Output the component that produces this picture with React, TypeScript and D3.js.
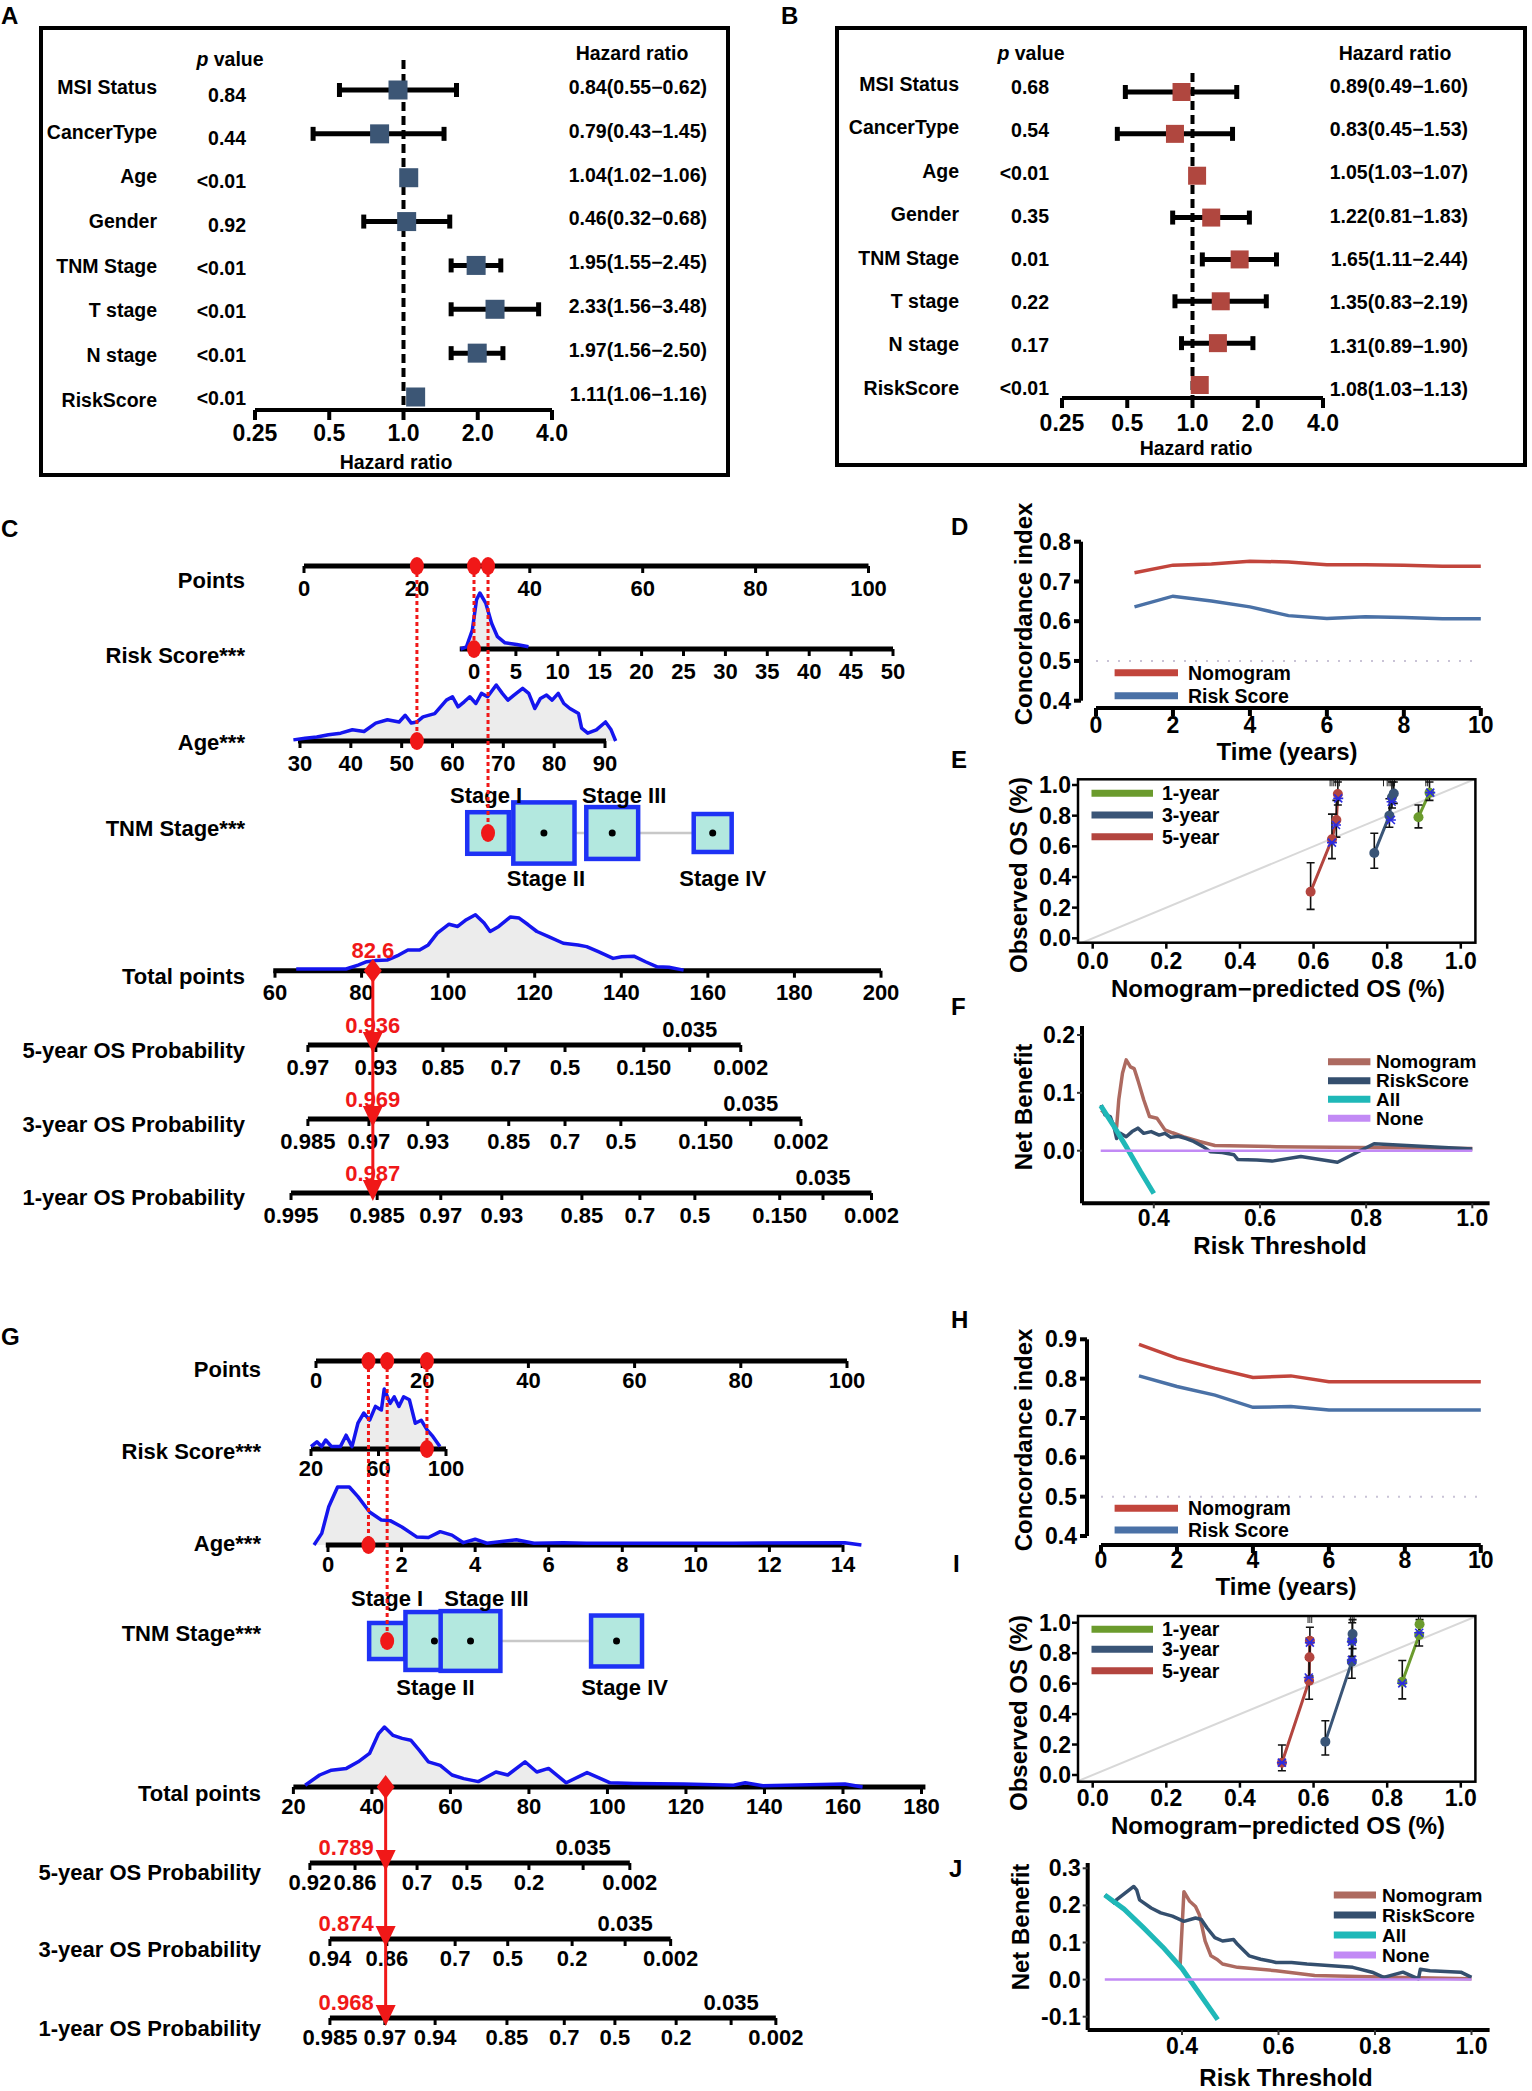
import React from 'react';
import * as d3 from 'd3';

const FONT = '"Liberation Sans", Arial, Helvetica, sans-serif';
const RED = '#f01818';
const DENS_BLUE = '#1515ee';

// ---------- A / B : multivariate Cox forest plots ----------
const forestVars = ['MSI Status', 'CancerType', 'Age', 'Gender', 'TNM Stage', 'T stage', 'N stage', 'RiskScore'];
const hrTicks = [0.25, 0.5, 1, 2, 4];
const hrTickText = ['0.25', '0.5', '1.0', '2.0', '4.0'];

const pA = ['0.84', '0.44', '<0.01', '0.92', '<0.01', '<0.01', '<0.01', '<0.01'];
const ciTextA = ['0.84(0.55−0.62)', '0.79(0.43−1.45)', '1.04(1.02−1.06)', '0.46(0.32−0.68)', '1.95(1.55−2.45)', '2.33(1.56−3.48)', '1.97(1.56−2.50)', '1.11(1.06−1.16)'];
// where the marks sit in panel A (the printed text does not always agree)
const hrA = [0.95, 0.8, 1.05, 1.03, 1.97, 2.35, 1.99, 1.12];
const loA = [0.55, 0.43, 1.02, 0.69, 1.56, 1.56, 1.56, 1.06];
const hiA = [1.64, 1.46, 1.06, 1.54, 2.48, 3.53, 2.53, 1.16];

const pB = ['0.68', '0.54', '<0.01', '0.35', '0.01', '0.22', '0.17', '<0.01'];
const ciTextB = ['0.89(0.49−1.60)', '0.83(0.45−1.53)', '1.05(1.03−1.07)', '1.22(0.81−1.83)', '1.65(1.11−2.44)', '1.35(0.83−2.19)', '1.31(0.89−1.90)', '1.08(1.03−1.13)'];
const hrB = [0.89, 0.83, 1.05, 1.22, 1.65, 1.35, 1.31, 1.08];
const loB = [0.49, 0.45, 1.03, 0.81, 1.11, 0.83, 0.89, 1.03];
const hiB = [1.6, 1.53, 1.07, 1.83, 2.44, 2.19, 1.9, 1.13];

// ---------- C / G : nomograms ----------
const nomoLabels = ['Points', 'Risk Score***', 'Age***', 'TNM Stage***', 'Total points', '5-year OS Probability', '3-year OS Probability', '1-year OS Probability'];
const stages = ['Stage I', 'Stage II', 'Stage III', 'Stage IV'];
const pointTicks = [0, 20, 40, 60, 80, 100];

// density curves: [value, relative density (peak = 100)]
const cRiskDens = [[-1.6, 0], [-0.9, 4], [-0.2, 34], [0.3, 88], [0.7, 100], [1.4, 82], [2.1, 46], [2.8, 22], [3.7, 11], [5.1, 8], [6.5, 4]];
const cAgeDens = [[28.7, 2], [31, 5], [33.3, 7], [35.6, 11], [38, 14], [40.3, 20], [42.6, 17], [44.9, 32], [47.2, 38], [49.5, 34], [50.7, 46], [51.9, 32], [53, 34], [54.2, 43], [56.5, 49], [58.8, 73], [60, 79], [61.1, 61], [62.3, 70], [63.4, 79], [64.6, 67], [65.7, 85], [66.9, 79], [68.6, 100], [69.8, 85], [70.9, 73], [72.1, 82], [73.8, 94], [75, 85], [76.2, 58], [77.3, 76], [78.5, 82], [79.6, 73], [80.8, 85], [81.9, 67], [83.1, 58], [84.8, 49], [85.4, 23], [86.6, 14], [88.3, 20], [90.1, 34], [91.2, 20], [92.1, 0]];
const cTotalDens = [[64.9, 3], [76.4, 3], [79.2, 10], [81.2, 16], [83.2, 18], [85.9, 19], [88.6, 28], [90.7, 37], [93.4, 37], [95.4, 46], [97.5, 67], [100.2, 83], [102.2, 79], [104.2, 91], [106.3, 100], [108.3, 85], [109.7, 70], [111.7, 79], [114.4, 96], [116.4, 94], [118.5, 82], [120.5, 70], [123.2, 61], [126.6, 49], [130, 46], [132, 43], [134.7, 34], [138.1, 22], [140.1, 25], [142.9, 26], [145.6, 16], [148.3, 7], [151, 6], [154.4, 1]];
const cStagePts = [32.6, 42.5, 54.6, 72.4];
const cStageFreq = [0.18, 0.39, 0.28, 0.15];
const cRiskTicks = d3.range(0, 51, 5);
const cAgeTicks = [30, 40, 50, 60, 70, 80, 90];
const cTotalTicks = [60, 80, 100, 120, 140, 160, 180, 200];
// [label, total points]
const c5y = [['0.97', 67.6], ['0.93', 83.3], ['0.85', 98.8], ['0.7', 113.3], ['0.5', 127.0], ['0.150', 145.2], ['0.035', 155.8], ['0.002', 167.6]];
const c3y = [['0.985', 67.6], ['0.97', 81.7], ['0.93', 95.3], ['0.85', 114.0], ['0.7', 127.0], ['0.5', 139.9], ['0.150', 159.5], ['0.035', 169.9], ['0.002', 181.5]];
const c1y = [['0.995', 63.7], ['0.985', 83.6], ['0.97', 98.3], ['0.93', 112.4], ['0.85', 130.9], ['0.7', 144.3], ['0.5', 157.0], ['0.150', 176.6], ['0.035', 186.6], ['0.002', 197.8]];
const cPatient = { risk: 0, age: 53, stage: 'Stage I', total: 82.6, probs: ['0.936', '0.969', '0.987'] };

const gRiskDens = [[20, 4], [23.5, 12], [26.3, 4], [28.7, 15], [32.2, 4], [37.4, 4], [40.8, 23], [44.3, 4], [47.8, 43], [51.3, 60], [54.7, 48], [58.2, 71], [61.7, 65], [63.4, 100], [66.9, 76], [69.3, 87], [72.1, 71], [74.9, 87], [78.3, 82], [81.8, 43], [85.3, 48], [88.8, 32], [92.2, 21], [96.4, 4]];
const gAgeDens = [[-0.38, 0], [-0.17, 20], [0.02, 66], [0.26, 100], [0.58, 100], [0.82, 83], [1.13, 57], [1.45, 43], [1.69, 42], [2.01, 31], [2.41, 14], [2.73, 13], [3.05, 23], [3.37, 17], [3.68, 4], [4, 10], [4.32, 3], [5.12, 9], [5.6, 3], [6.4, 4], [7.03, 3], [8.6, 3], [11, 3], [14.05, 4], [14.5, 0]];
const gTotalDens = [[23, 3], [26.7, 20], [29.7, 28], [33.5, 31], [36.5, 42], [39.4, 56], [41.7, 89], [43.2, 100], [45.4, 86], [47.7, 81], [49.9, 78], [52.1, 61], [54.4, 42], [57.4, 36], [60.4, 20], [63.4, 14], [67.1, 9], [71.6, 25], [74.6, 20], [79, 42], [82, 25], [85, 31], [89.5, 7], [94.8, 24], [100.7, 7], [106.7, 6], [119.4, 5], [132.1, 3], [135.1, 7], [139.6, 2], [160.5, 5], [165, 0]];
const gStagePts = [13.4, 22.3, 29.1, 56.6];
const gStageFreq = [0.12, 0.31, 0.33, 0.24];
const gRiskTicks = [20, 60, 100];
const gAgeTicks = [0, 2, 4, 6, 8, 10, 12, 14];
const gTotalTicks = [20, 40, 60, 80, 100, 120, 140, 160, 180];
const g5y = [['0.92', 24.2], ['0.86', 35.7], ['0.7', 51.5], ['0.5', 64.2], ['0.2', 80.0], ['0.035', 93.8], ['0.002', 105.7]];
const g3y = [['0.94', 29.3], ['0.86', 43.8], ['0.7', 61.2], ['0.5', 74.6], ['0.2', 91.0], ['0.035', 104.5], ['0.002', 116.1]];
const g1y = [['0.985', 29.3], ['0.97', 43.3], ['0.94', 56.1], ['0.85', 74.4], ['0.7', 89.0], ['0.5', 101.9], ['0.2', 117.5], ['0.035', 131.5], ['0.002', 142.9]];
const gPatient = { risk: 88.7, age: 1.1, stage: 'Stage I', total: 43.5, probs: ['0.789', '0.874', '0.968'] };

// ---------- D / H : time-dependent C-index ----------
const years = [1, 2, 3, 4, 5, 6, 7, 8, 9, 10];
const dNomo = [0.722, 0.741, 0.744, 0.751, 0.749, 0.742, 0.742, 0.741, 0.738, 0.738];
const dRisk = [0.636, 0.663, 0.651, 0.636, 0.614, 0.607, 0.611, 0.609, 0.606, 0.606];
const hNomo = [0.887, 0.852, 0.826, 0.803, 0.807, 0.792, 0.792, 0.792, 0.792, 0.792];
const hRisk = [0.807, 0.78, 0.758, 0.727, 0.729, 0.72, 0.72, 0.72, 0.72, 0.72];
const ciNames = ['Nomogram', 'Risk Score'];

// ---------- E / I : calibration  [predicted, observed, lower, upper] ----------
const calNames = ['1-year', '3-year', '5-year'];
const eCal1 = [[0.885, 0.79, 0.72, 0.87], [0.915, 0.95, 0.9, 1.02]];
const eCal3 = [[0.765, 0.556, 0.457, 0.685], [0.806, 0.8, 0.724, 0.91], [0.813, 0.92, 0.85, 1.02], [0.818, 0.945, 0.88, 1.02]];
const eCal5 = [[0.592, 0.304, 0.189, 0.493], [0.65, 0.646, 0.52, 0.81], [0.662, 0.772, 0.66, 0.9], [0.666, 0.941, 0.87, 1.02]];
const eBias = [[0.65, 0.624], [0.661, 0.739], [0.667, 0.913], [0.81, 0.772], [0.812, 0.891], [0.917, 0.95]];
const eRug = [0.645, 0.65, 0.655, 0.66, 0.665, 0.67, 0.79, 0.8, 0.805, 0.81, 0.815, 0.82, 0.905, 0.91, 0.915];
const iCal1 = [[0.841, 0.613, 0.5, 0.752], [0.887, 0.919, 0.847, 1.0], [0.888, 0.99, 0.93, 1.02]];
const iCal3 = [[0.632, 0.219, 0.131, 0.356], [0.704, 0.744, 0.635, 0.87], [0.705, 0.882, 0.78, 1.0], [0.706, 0.926, 0.83, 1.02]];
const iCal5 = [[0.514, 0.081, 0.028, 0.197], [0.588, 0.619, 0.497, 0.76], [0.589, 0.773, 0.65, 0.9], [0.59, 0.882, 0.77, 0.97]];
const iBias = [[0.514, 0.081], [0.587, 0.64], [0.59, 0.869], [0.704, 0.755], [0.704, 0.875], [0.841, 0.602], [0.887, 0.934]];
const iRug = [0.585, 0.59, 0.595, 0.7, 0.705, 0.71, 0.885, 0.89];

// ---------- F / J : decision curves  [threshold, net benefit] ----------
const dcaNames = ['Nomogram', 'RiskScore', 'All', 'None'];
const fNomo = [[0.301, 0.07], [0.312, 0.062], [0.323, 0.047], [0.33, 0.041], [0.334, 0.088], [0.341, 0.134], [0.348, 0.157], [0.356, 0.145], [0.363, 0.142], [0.37, 0.122], [0.381, 0.088], [0.392, 0.059], [0.406, 0.056], [0.421, 0.036], [0.435, 0.031], [0.457, 0.024], [0.486, 0.016], [0.515, 0.009], [0.631, 0.007], [1.0, 0.004]];
const fRisk = [[0.301, 0.079], [0.308, 0.062], [0.318, 0.059], [0.325, 0.041], [0.33, 0.021], [0.337, 0.03], [0.348, 0.024], [0.359, 0.033], [0.37, 0.039], [0.381, 0.03], [0.395, 0.033], [0.41, 0.027], [0.421, 0.03], [0.432, 0.023], [0.446, 0.025], [0.461, 0.021], [0.475, 0.016], [0.493, 0.007], [0.507, -0.002], [0.529, -0.003], [0.551, -0.007], [0.558, -0.015], [0.594, -0.016], [0.623, -0.018], [0.677, -0.01], [0.746, -0.02], [0.815, 0.012], [1.0, 0.003]];
const fAll = [[0.3, 0.078], [0.325, 0.042], [0.35, 0.004], [0.375, -0.036], [0.4, -0.074]];
const fNone = [[0.3, 0], [1.0, 0]];
const jNomo = [[0.396, 0.037], [0.404, 0.237], [0.416, 0.211], [0.428, 0.197], [0.436, 0.175], [0.448, 0.104], [0.46, 0.064], [0.472, 0.055], [0.484, 0.042], [0.515, 0.033], [0.595, 0.024], [0.675, 0.011], [0.834, 0.006], [1.0, 0.002]];
const jRisk = [[0.24, 0.228], [0.26, 0.206], [0.264, 0.215], [0.3, 0.251], [0.306, 0.242], [0.312, 0.215], [0.336, 0.193], [0.356, 0.18], [0.38, 0.171], [0.404, 0.157], [0.428, 0.166], [0.44, 0.162], [0.452, 0.139], [0.468, 0.113], [0.484, 0.104], [0.507, 0.108], [0.515, 0.095], [0.539, 0.064], [0.563, 0.055], [0.579, 0.051], [0.595, 0.046], [0.627, 0.046], [0.659, 0.042], [0.754, 0.033], [0.794, 0.02], [0.818, 0.006], [0.858, 0.02], [0.89, 0.002], [0.894, 0.028], [0.914, 0.024], [0.978, 0.02], [1.0, 0.006]];
const jAll = [[0.24, 0.228], [0.28, 0.19], [0.32, 0.14], [0.36, 0.088], [0.4, 0.03], [0.44, -0.045], [0.474, -0.108]];
const jNone = [[0.24, 0], [1.0, 0]];

// ---------- layout ----------
const layA = { box: [41, 28, 728, 475], labX: 157, pX: 246, ciX: 707, ax: [255, 552], axY: 410, labY: [87, 400], pY: [95, 398], markY: [90, 397], ciY: [87, 394], pHead: [230, 59], hrHead: [632, 53], dashTop: 60, tickY: 433, title: [396, 462], sq: 19 };
const layB = { box: [837, 28, 1525, 465], labX: 959, pX: 1049, ciX: 1468, ax: [1062, 1323], axY: 398, labY: [84, 388], pY: [87, 388], markY: [92, 385], ciY: [86, 389], pHead: [1031, 53], hrHead: [1395, 53], dashTop: 73, tickY: 423, title: [1196, 448], sq: 18 };

const layC = {
  labelX: 245, labelY: [580, 655, 742, 828, 976, 1050, 1124, 1197], tickDy: 22,
  pointsY: 566, pointsRange: [304, 868.5],
  risk: { y: 649, domain: [0, 50], range: [474, 893], line: [-1.7, 50], h: 56 },
  age: { y: 741, domain: [30, 90], range: [300, 605], line: [29.6, 90.2], h: 56 },
  stageY: 833, stageK: 98, stageAbove: 795, stageBelow: 878, stageLabDx: [-2, 2, 12, 10],
  total: { y: 970.7, domain: [60, 200], range: [275, 881], line: [59.6, 200], h: 56 },
  probY: [1045, 1119, 1193], valCentered: true,
};
const layG = {
  labelX: 261, labelY: [1369, 1451, 1543, 1633, 1793, 1872, 1949, 2028], tickDy: 19,
  pointsY: 1361, pointsRange: [316, 847],
  risk: { y: 1449, domain: [20, 100], range: [311, 446], line: [20, 100], h: 60 },
  age: { y: 1545, domain: [0, 14], range: [328, 843], line: [-0.06, 13.97], h: 58 },
  stageY: 1641, stageK: 104, stageAbove: 1598, stageBelow: 1687, stageLabDx: [0, 1, 16, 8],
  total: { y: 1787, domain: [20, 180], range: [293.4, 921.5], line: [20, 181], h: 60 },
  probY: [1863, 1939, 2018], valCentered: false,
};

const layD = { x: [1096, 1480.8], y: [700.7, 541.7], yDom: [0.4, 0.8], nt: 5, yAxisX: 1081, xAxisY: 708, xLabY: 725, title: [1287, 752], yTitle: [1024, 614], leg: [1114.6, 1178], legTx: 1188, legY: [672.7, 695.7] };
const layH = { x: [1101, 1480.8], y: [1536, 1339.3], yDom: [0.4, 0.9], nt: 6, yAxisX: 1087, xAxisY: 1545, xLabY: 1560, title: [1286, 1587], yTitle: [1024, 1440], leg: [1114.6, 1178], legTx: 1188, legY: [1508.3, 1530] };

const layE = { id: 'clipE', box: [1078, 779.3, 1475.4, 942.7], x: [1092.7, 1460.8], y: [938.3, 785], xLabY: 961, xTitle: [1278, 989], yTitle: [1018.5, 875], leg: [1091.5, 1153], legTx: 1162, legY: [793.3, 815, 836.7] };
const layI = { id: 'clipI', box: [1078, 1616, 1475.4, 1781.7], x: [1092.7, 1460.8], y: [1775, 1622.7], xLabY: 1798, xTitle: [1278, 1826], yTitle: [1018.5, 1713], leg: [1091.5, 1153], legTx: 1162, legY: [1629.3, 1649.3, 1670.7] };

const layF = { yAxisX: 1082, yAxisTop: 1026, xAxisY: 1203.3, xAxisEnd: 1489.6, xDom: [0.4, 1], x: [1153.8, 1472.3], yDom: [0, 0.2], y: [1150.7, 1035], yTicks: [0, 0.1, 0.2], xLabY: 1218, title: [1280, 1246], yTitle: [1024, 1107], leg: [1328, 1370.4], legTx: 1376, legY: [1061.7, 1080.7, 1099.3, 1118.3] };
const layJ = { yAxisX: 1087.7, yAxisTop: 1863, xAxisY: 2030, xAxisEnd: 1489.6, xDom: [0.4, 1], x: [1182, 1471.5], yDom: [-0.1, 0.3], y: [2016.7, 1868.3], yTicks: [-0.1, 0, 0.1, 0.2, 0.3], xLabY: 2046, title: [1286, 2078], yTitle: [1021, 1927], leg: [1333.8, 1376], legTx: 1382, legY: [1895, 1915, 1935, 1955] };

const panelLetters = [['A', 1, 24], ['B', 781, 24], ['C', 1, 537], ['D', 951, 535], ['E', 951, 768], ['F', 951, 1015], ['G', 1, 1345], ['H', 951, 1328], ['I', 953, 1572], ['J', 949, 1877]];

const CI_COLORS = ['#c2453c', '#4a71a6'];
const CAL_COLORS = ['#6b9b2d', '#3a5577', '#b3453f'];
const DCA_COLORS = ['#ad6a60', '#344f6e', '#1fb8b8', '#c28af5'];

// ---------- components ----------
function Forest({ lay, p, ci, hr, lo, hi, color }: any) {
  const x = d3.scaleLog().base(2).domain([0.25, 4]).range(lay.ax);
  const pt = (r: number[]) => d3.scalePoint<string>().domain(forestVars).range(r as [number, number]);
  const yLab = pt(lay.labY), yP = pt(lay.pY), yM = pt(lay.markY), yCi = pt(lay.ciY);
  const [bx0, by0, bx1, by1] = lay.box;
  const h = lay.sq / 2;
  return (
    <g>
      <rect x={bx0} y={by0} width={bx1 - bx0} height={by1 - by0} fill="none" stroke="#000" strokeWidth={4} />
      <text x={lay.pHead[0]} y={lay.pHead[1]} dy="0.35em" textAnchor="middle" fontSize={19.5}>
        <tspan fontStyle="italic">p</tspan> value
      </text>
      <text x={lay.hrHead[0]} y={lay.hrHead[1]} dy="0.35em" textAnchor="middle" fontSize={19.5}>Hazard ratio</text>
      {forestVars.map((v, i) => (
        <g key={v} fontSize={19.5}>
          <text x={lay.labX} y={yLab(v)} dy="0.35em" textAnchor="end">{v}</text>
          <text x={lay.pX} y={yP(v)} dy="0.35em" textAnchor="end">{p[i]}</text>
          <text x={lay.ciX} y={yCi(v)} dy="0.35em" textAnchor="end">{ci[i]}</text>
        </g>
      ))}
      <line x1={x(1)} x2={x(1)} y1={lay.dashTop} y2={lay.axY} stroke="#000" strokeWidth={4} strokeDasharray="9 5" />
      {forestVars.map((v, i) => {
        const y = yM(v) as number;
        return (
          <g key={v}>
            <line x1={x(lo[i])} x2={x(hi[i])} y1={y} y2={y} stroke="#000" strokeWidth={5} />
            {[lo[i], hi[i]].map((e, k) => (
              <line key={k} x1={x(e)} x2={x(e)} y1={y - 7} y2={y + 7} stroke="#000" strokeWidth={5} />
            ))}
            <rect x={x(hr[i]) - h} y={y - h} width={lay.sq} height={lay.sq} fill={color} />
          </g>
        );
      })}
      <line x1={lay.ax[0]} x2={lay.ax[1]} y1={lay.axY} y2={lay.axY} stroke="#000" strokeWidth={4} />
      {hrTicks.map((t, i) => (
        <g key={t}>
          <line x1={x(t)} x2={x(t)} y1={lay.axY} y2={lay.axY + 10} stroke="#000" strokeWidth={4} />
          <text x={x(t)} y={lay.tickY} dy="0.35em" textAnchor="middle" fontSize={23}>{hrTickText[i]}</text>
        </g>
      ))}
      <text x={lay.title[0]} y={lay.title[1]} dy="0.35em" textAnchor="middle" fontSize={19.5}>Hazard ratio</text>
    </g>
  );
}

function Nomogram({ lay, riskDens, ageDens, totalDens, riskTicks, ageTicks, totalTicks, stagePts, stageFreq, probs, patient }: any) {
  const pts = d3.scaleLinear().domain([0, 100]).range(lay.pointsRange);
  const risk = d3.scaleLinear().domain(lay.risk.domain).range(lay.risk.range);
  const age = d3.scaleLinear().domain(lay.age.domain).range(lay.age.range);
  const tot = d3.scaleLinear().domain(lay.total.domain).range(lay.total.range);

  const dens = (sx: any, tr: any, data: number[][]) => {
    const hs = d3.scaleLinear().domain([0, 100]).range([0, tr.h]);
    const area = d3.area<number[]>().x(d => sx(d[0])).y0(tr.y).y1(d => tr.y - hs(d[1]));
    const line = d3.line<number[]>().x(d => sx(d[0])).y(d => tr.y - hs(d[1]));
    return { area: area(data) as string, line: line(data) as string };
  };
  const dR = dens(risk, lay.risk, riskDens);
  const dA = dens(age, lay.age, ageDens);
  const dT = dens(tot, lay.total, totalDens);

  const axis = (sx: any, y: number, ext: number[], ticks: number[]) => (
    <g>
      <line x1={sx(ext[0])} x2={sx(ext[1])} y1={y} y2={y} stroke="#000" strokeWidth={5} />
      {ticks.map(t => (
        <g key={t}>
          <line x1={sx(t)} x2={sx(t)} y1={y} y2={y + 7} stroke="#000" strokeWidth={3} />
          <text x={sx(t)} y={y + lay.tickDy} dy="0.35em" textAnchor="middle" fontSize={22}>{t}</text>
        </g>
      ))}
    </g>
  );

  const xRisk = risk(patient.risk);
  const xAge = age(patient.age);
  const si = stages.indexOf(patient.stage);
  const xStage = pts(stagePts[si]);
  const xTot = tot(patient.total);
  const sxs = stagePts.map((s: number) => pts(s));
  const side = stageFreq.map((f: number) => Math.sqrt(f) * lay.stageK);
  const yLast = lay.probY[2];

  return (
    <g>
      {nomoLabels.map((l, i) => (
        <text key={l} x={lay.labelX} y={lay.labelY[i]} dy="0.35em" textAnchor="end" fontSize={22}>{l}</text>
      ))}
      <path d={dR.area} fill="#ececec" />
      <path d={dA.area} fill="#ececec" />
      <path d={dT.area} fill="#ececec" />
      {axis(pts, lay.pointsY, [0, 100], pointTicks)}
      {axis(risk, lay.risk.y, lay.risk.line, riskTicks)}
      {axis(age, lay.age.y, lay.age.line, ageTicks)}
      {axis(tot, lay.total.y, lay.total.line, totalTicks)}
      <path d={dR.line} fill="none" stroke={DENS_BLUE} strokeWidth={3.5} strokeLinejoin="round" />
      <path d={dA.line} fill="none" stroke={DENS_BLUE} strokeWidth={3.5} strokeLinejoin="round" />
      <path d={dT.line} fill="none" stroke={DENS_BLUE} strokeWidth={3.5} strokeLinejoin="round" />

      {/* TNM stage boxes */}
      <line x1={sxs[0]} x2={sxs[3]} y1={lay.stageY} y2={lay.stageY} stroke="#c8c8c8" strokeWidth={2.5} />
      {stages.map((s, i) => (
        <rect key={s} x={sxs[i] - side[i] / 2} y={lay.stageY - side[i] / 2} width={side[i]} height={side[i]}
          fill="#b3e8df" stroke="#1e32f5" strokeWidth={4.5} />
      ))}
      {stages.map((s, i) => (i === si ? null : <circle key={s} cx={sxs[i]} cy={lay.stageY} r={3.5} fill="#000" />))}
      {stages.map((s, i) => (
        <text key={s} x={sxs[i] + lay.stageLabDx[i]} y={i % 2 === 0 ? lay.stageAbove : lay.stageBelow} dy="0.35em"
          textAnchor="middle" fontSize={22}>{s}</text>
      ))}

      {/* probability axes */}
      {probs.map((ax: any[], k: number) => {
        const y = lay.probY[k];
        return (
          <g key={k}>
            <line x1={tot(ax[0][1])} x2={tot(ax[ax.length - 1][1])} y1={y} y2={y} stroke="#000" strokeWidth={5} />
            {ax.map((t: any) => (
              <g key={t[0]}>
                <line x1={tot(t[1])} x2={tot(t[1])} y1={y} y2={y + 7} stroke="#000" strokeWidth={3} />
                <text x={tot(t[1])} y={t[0] === '0.035' ? y - 16 : y + lay.tickDy} dy="0.35em" textAnchor="middle" fontSize={22}>{t[0]}</text>
              </g>
            ))}
          </g>
        );
      })}

      {/* patient path */}
      {[[xAge, lay.age.y], [xRisk, lay.risk.y], [xStage, lay.stageY]].map(([x, y], i) => (
        <line key={i} x1={x} x2={x} y1={lay.pointsY} y2={y} stroke={RED} strokeWidth={3} strokeDasharray="4 3" />
      ))}
      {[[xAge, lay.pointsY], [xRisk, lay.pointsY], [xStage, lay.pointsY], [xAge, lay.age.y], [xRisk, lay.risk.y], [xStage, lay.stageY]].map(([x, y], i) => (
        <ellipse key={i} cx={x} cy={y} rx={7} ry={9} fill={RED} />
      ))}
      <line x1={xTot} x2={xTot} y1={lay.total.y} y2={yLast} stroke={RED} strokeWidth={3} />
      <polygon points={`${xTot},${lay.total.y - 12} ${xTot + 9},${lay.total.y} ${xTot},${lay.total.y + 12} ${xTot - 9},${lay.total.y}`} fill={RED} />
      {lay.probY.map((y: number) => (
        <polygon key={y} points={`${xTot - 10},${y - 13} ${xTot + 10},${y - 13} ${xTot},${y + 8}`} fill={RED} />
      ))}
      {lay.valCentered && (
        <text x={xTot} y={lay.total.y - 20} dy="0.35em" textAnchor="middle" fontSize={22} fill={RED}>{patient.total}</text>
      )}
      {patient.probs.map((p: string, k: number) => (
        <text key={k} x={lay.valCentered ? xTot : xTot - 12} y={lay.probY[k] - (lay.valCentered ? 20 : 16)} dy="0.35em"
          textAnchor={lay.valCentered ? 'middle' : 'end'} fontSize={22} fill={RED}>{p}</text>
      ))}
    </g>
  );
}

function CIndex({ lay, nomo, risk }: any) {
  const x = d3.scaleLinear().domain([0, 10]).range(lay.x);
  const y = d3.scaleLinear().domain(lay.yDom).range(lay.y);
  const line = d3.line<number>().x((_, i) => x(years[i])).y(v => y(v));
  const yTicks = y.ticks(lay.nt);
  const xTicks = [0, 2, 4, 6, 8, 10];
  return (
    <g>
      <line x1={x(0)} x2={x(10)} y1={y(0.5)} y2={y(0.5)} stroke="#c9c3d6" strokeWidth={2} strokeDasharray="2 9" />
      {[nomo, risk].map((s, i) => (
        <path key={i} d={line(s) as string} fill="none" stroke={CI_COLORS[i]} strokeWidth={3.5} />
      ))}
      <line x1={lay.yAxisX} x2={lay.yAxisX} y1={y(lay.yDom[1])} y2={y(lay.yDom[0])} stroke="#000" strokeWidth={4} />
      {yTicks.map(t => (
        <g key={t}>
          <line x1={lay.yAxisX - 7} x2={lay.yAxisX} y1={y(t)} y2={y(t)} stroke="#000" strokeWidth={4} />
          <text x={lay.yAxisX - 10} y={y(t)} dy="0.35em" textAnchor="end" fontSize={23}>{t.toFixed(1)}</text>
        </g>
      ))}
      <line x1={x(0)} x2={x(10)} y1={lay.xAxisY} y2={lay.xAxisY} stroke="#000" strokeWidth={4} />
      {xTicks.map(t => (
        <g key={t}>
          <line x1={x(t)} x2={x(t)} y1={lay.xAxisY} y2={lay.xAxisY + 8} stroke="#000" strokeWidth={4} />
          <text x={x(t)} y={lay.xLabY} dy="0.35em" textAnchor="middle" fontSize={23}>{t}</text>
        </g>
      ))}
      <text x={lay.title[0]} y={lay.title[1]} dy="0.35em" textAnchor="middle" fontSize={24}>Time (years)</text>
      <text transform={`translate(${lay.yTitle[0]},${lay.yTitle[1]}) rotate(-90)`} dy="0.35em" textAnchor="middle" fontSize={24}>Concordance index</text>
      {ciNames.map((n, i) => (
        <g key={n}>
          <line x1={lay.leg[0]} x2={lay.leg[1]} y1={lay.legY[i]} y2={lay.legY[i]} stroke={CI_COLORS[i]} strokeWidth={7} />
          <text x={lay.legTx} y={lay.legY[i]} dy="0.35em" fontSize={19.5}>{n}</text>
        </g>
      ))}
    </g>
  );
}

function Calib({ lay, cal, bias, rug }: any) {
  const x = d3.scaleLinear().domain([0, 1]).range(lay.x);
  const y = d3.scaleLinear().domain([0, 1]).range(lay.y);
  const [bx0, by0, bx1, by1] = lay.box;
  const line = d3.line<number[]>().x(d => x(d[0])).y(d => y(d[1]));
  const ticks = [0, 0.2, 0.4, 0.6, 0.8, 1.0];
  return (
    <g>
      <defs>
        <clipPath id={lay.id}><rect x={bx0} y={by0} width={bx1 - bx0} height={by1 - by0} /></clipPath>
      </defs>
      <g clipPath={`url(#${lay.id})`}>
        <line x1={x(-0.1)} y1={y(-0.1)} x2={x(1.1)} y2={y(1.1)} stroke="#d8d8d8" strokeWidth={2} />
        {rug.map((r: number, i: number) => (
          <line key={i} x1={x(r)} x2={x(r)} y1={by0} y2={by0 + 7} stroke="#222" strokeWidth={1} />
        ))}
        {cal.map((s: number[][], k: number) => (
          <path key={k} d={line(s) as string} fill="none" stroke={CAL_COLORS[k]} strokeWidth={3} />
        ))}
        {cal.map((s: number[][], k: number) => s.map((d, i) => (
          <g key={`${k}-${i}`} stroke="#111" strokeWidth={1.6}>
            <line x1={x(d[0])} x2={x(d[0])} y1={y(d[2])} y2={y(d[3])} />
            <line x1={x(d[0]) - 4} x2={x(d[0]) + 4} y1={y(d[2])} y2={y(d[2])} />
            <line x1={x(d[0]) - 4} x2={x(d[0]) + 4} y1={y(d[3])} y2={y(d[3])} />
          </g>
        )))}
        {cal.map((s: number[][], k: number) => s.map((d, i) => (
          <circle key={`${k}-${i}`} cx={x(d[0])} cy={y(d[1])} r={5} fill={CAL_COLORS[k]} />
        )))}
        {bias.map((d: number[], i: number) => {
          const cx = x(d[0]), cy = y(d[1]);
          return (
            <g key={i} stroke="#2b2be0" strokeWidth={1.6}>
              <line x1={cx - 4} x2={cx + 4} y1={cy - 4} y2={cy + 4} />
              <line x1={cx - 4} x2={cx + 4} y1={cy + 4} y2={cy - 4} />
              <line x1={cx - 5} x2={cx + 5} y1={cy} y2={cy} />
            </g>
          );
        })}
      </g>
      <rect x={bx0} y={by0} width={bx1 - bx0} height={by1 - by0} fill="none" stroke="#000" strokeWidth={2.5} />
      {ticks.map(t => (
        <g key={t}>
          <line x1={bx0 - 6} x2={bx0} y1={y(t)} y2={y(t)} stroke="#000" strokeWidth={2.5} />
          <text x={bx0 - 7} y={y(t)} dy="0.35em" textAnchor="end" fontSize={23}>{t.toFixed(1)}</text>
          <line x1={x(t)} x2={x(t)} y1={by1} y2={by1 + 6} stroke="#000" strokeWidth={2.5} />
          <text x={x(t)} y={lay.xLabY} dy="0.35em" textAnchor="middle" fontSize={23}>{t.toFixed(1)}</text>
        </g>
      ))}
      <text x={lay.xTitle[0]} y={lay.xTitle[1]} dy="0.35em" textAnchor="middle" fontSize={24}>Nomogram−predicted OS (%)</text>
      <text transform={`translate(${lay.yTitle[0]},${lay.yTitle[1]}) rotate(-90)`} dy="0.35em" textAnchor="middle" fontSize={24}>Observed OS (%)</text>
      {calNames.map((n, i) => (
        <g key={n}>
          <line x1={lay.leg[0]} x2={lay.leg[1]} y1={lay.legY[i]} y2={lay.legY[i]} stroke={CAL_COLORS[i]} strokeWidth={7} />
          <text x={lay.legTx} y={lay.legY[i]} dy="0.35em" fontSize={19.5}>{n}</text>
        </g>
      ))}
    </g>
  );
}

function Dca({ lay, curves }: any) {
  const x = d3.scaleLinear().domain(lay.xDom).range(lay.x);
  const y = d3.scaleLinear().domain(lay.yDom).range(lay.y);
  const line = d3.line<number[]>().x(d => x(d[0])).y(d => y(d[1]));
  const widths = [3.5, 3.5, 5, 2.5];
  const xTicks = [0.4, 0.6, 0.8, 1.0];
  return (
    <g>
      {curves.map((c: number[][], i: number) => (
        <path key={i} d={line(c) as string} fill="none" stroke={DCA_COLORS[i]} strokeWidth={widths[i]} strokeLinejoin="round" />
      ))}
      <line x1={lay.yAxisX} x2={lay.yAxisX} y1={lay.yAxisTop} y2={lay.xAxisY} stroke="#000" strokeWidth={4} />
      <line x1={lay.yAxisX} x2={lay.xAxisEnd} y1={lay.xAxisY} y2={lay.xAxisY} stroke="#000" strokeWidth={4} />
      {lay.yTicks.map((t: number) => (
        <g key={t}>
          <line x1={lay.yAxisX - 5} x2={lay.yAxisX} y1={y(t)} y2={y(t)} stroke="#333" strokeWidth={2} />
          <text x={lay.yAxisX - 7} y={y(t)} dy="0.35em" textAnchor="end" fontSize={23}>{t.toFixed(1)}</text>
        </g>
      ))}
      {xTicks.map(t => (
        <g key={t}>
          <line x1={x(t)} x2={x(t)} y1={lay.xAxisY} y2={lay.xAxisY + 5} stroke="#333" strokeWidth={2} />
          <text x={x(t)} y={lay.xLabY} dy="0.35em" textAnchor="middle" fontSize={23}>{t.toFixed(1)}</text>
        </g>
      ))}
      <text x={lay.title[0]} y={lay.title[1]} dy="0.35em" textAnchor="middle" fontSize={24}>Risk Threshold</text>
      <text transform={`translate(${lay.yTitle[0]},${lay.yTitle[1]}) rotate(-90)`} dy="0.35em" textAnchor="middle" fontSize={24}>Net Benefit</text>
      {dcaNames.map((n, i) => (
        <g key={n}>
          <line x1={lay.leg[0]} x2={lay.leg[1]} y1={lay.legY[i]} y2={lay.legY[i]} stroke={DCA_COLORS[i]} strokeWidth={7} />
          <text x={lay.legTx} y={lay.legY[i]} dy="0.35em" fontSize={19}>{n}</text>
        </g>
      ))}
    </g>
  );
}

export default function App() {
  return (
    <svg width={1532} height={2091} viewBox="0 0 1532 2091"
      style={{ position: 'absolute', left: 0, top: 0, background: '#fff', display: 'block' }}
      fontFamily={FONT} fontWeight="bold">
      <rect x={0} y={0} width={1532} height={2091} fill="#fff" />
      {panelLetters.map(([l, x, y]) => (
        <text key={l as string} x={x as number} y={y as number} fontSize={24}>{l}</text>
      ))}
      <Forest lay={layA} p={pA} ci={ciTextA} hr={hrA} lo={loA} hi={hiA} color="#3c5675" />
      <Forest lay={layB} p={pB} ci={ciTextB} hr={hrB} lo={loB} hi={hiB} color="#b0473f" />
      <Nomogram lay={layC} riskDens={cRiskDens} ageDens={cAgeDens} totalDens={cTotalDens}
        riskTicks={cRiskTicks} ageTicks={cAgeTicks} totalTicks={cTotalTicks}
        stagePts={cStagePts} stageFreq={cStageFreq} probs={[c5y, c3y, c1y]} patient={cPatient} />
      <Nomogram lay={layG} riskDens={gRiskDens} ageDens={gAgeDens} totalDens={gTotalDens}
        riskTicks={gRiskTicks} ageTicks={gAgeTicks} totalTicks={gTotalTicks}
        stagePts={gStagePts} stageFreq={gStageFreq} probs={[g5y, g3y, g1y]} patient={gPatient} />
      <CIndex lay={layD} nomo={dNomo} risk={dRisk} />
      <CIndex lay={layH} nomo={hNomo} risk={hRisk} />
      <Calib lay={layE} cal={[eCal1, eCal3, eCal5]} bias={eBias} rug={eRug} />
      <Calib lay={layI} cal={[iCal1, iCal3, iCal5]} bias={iBias} rug={iRug} />
      <Dca lay={layF} curves={[fNomo, fRisk, fAll, fNone]} />
      <Dca lay={layJ} curves={[jNomo, jRisk, jAll, jNone]} />
    </svg>
  );
}
